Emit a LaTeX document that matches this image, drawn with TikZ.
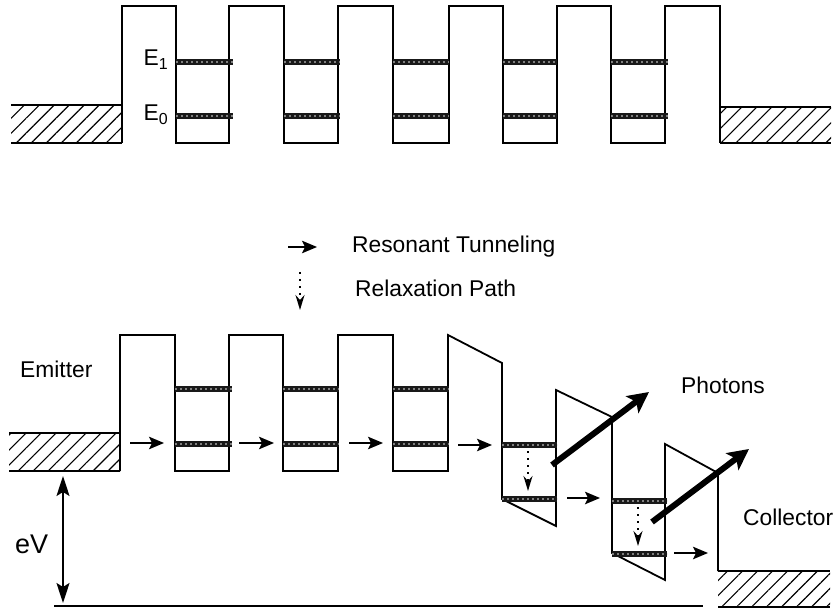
\documentclass[tikz,border=0pt]{standalone}
\usepackage{fontspec}
\setmainfont{Liberation Sans}
\usetikzlibrary{arrows.meta, patterns.meta}

\begin{document}
\begin{tikzpicture}[
    x=1pt, y=-1pt,
    band/.style={line width=1.8pt, line join=miter},
    hatch/.style={pattern={Lines[angle=45,distance=10.6pt,line width=1.1pt]}},
    arrow/.style={-{Stealth[length=15pt,width=12.5pt,inset=3pt]}, line width=1.5pt},
    relax/.style={-{Stealth[length=15pt,width=9pt,inset=5pt]}, line width=2pt, dash pattern=on 2pt off 5pt},
    photon/.style={-{Stealth[length=21pt,width=21pt,inset=5pt]}, line width=6pt},
    label/.style={font=\fontsize{22.8}{24}\selectfont, inner sep=0pt},
    level/.style={line width=5.2pt, black!90},
    leveldots/.style={line width=1.3pt, white!50!black, dash pattern=on 2pt off 3pt}
  ]
  \useasboundingbox (0,0) rectangle (835,609);

  % Structure without bias
  \fill[hatch] (11,105) rectangle (122,143);
  \fill[hatch] (720,107) rectangle (831,143);
  \draw[band] (11,105) -- (122,105);
  \draw[band] (11,143) -- (122,143);
  \draw[band] (720,107) -- (831,107);
  \draw[band] (720,143) -- (831,143);
  \draw[band] (122,143) -- (122,6) -- (176,6) -- (176,143) -- (229,143) -- (229,6) -- (284,6) -- (284,143)
    -- (338,143) -- (338,6) -- (393,6) -- (393,143) -- (449,143) -- (449,6) -- (503,6) -- (503,143)
    -- (557,143) -- (557,6) -- (611,6) -- (611,143) -- (665,143) -- (665,6) -- (720,6) -- (720,143);

  % Niveles, structure without bias
  \foreach \xa/\xb in {176/233,284/340,393/449,503/557,611/668} {
    \foreach \y in {62,116} {
      \draw[level] (\xa,\y) -- (\xb,\y);
      \draw[leveldots] (\xa,\y) -- (\xb,\y);
    }
  }
  \node[label] (eone) at (156,60) {E\textsubscript{1}};
  \node[label] (ezero) at (156,115) {E\textsubscript{0}};

  % Legend
  \coordinate (legA) at (288,247);
  \coordinate (legB) at (317,247);
  \coordinate (legC) at (300,272);
  \coordinate (legD) at (300,310);
  \draw[arrow] (legA) -- (legB);
  \draw[relax] (legC) -- (legD);
  \node[label, anchor=west] (restext) at (352,247) {Resonant Tunneling};
  \node[label, anchor=west] (relaxtext) at (355,288) {Relaxation Path};

  % Structure with bias
  \fill[hatch] (9,433) rectangle (120,471);
  \fill[hatch] (718,571) rectangle (830,607);
  \draw[band] (9,433) -- (120,433);
  \draw[band] (9,471) -- (120,471);
  \draw[band] (718,571) -- (830,571);
  \draw[band] (54,606) -- (703,606);
  \draw[band] (718,607) -- (830,607);
  \draw[band] (120,471) -- (120,335) -- (175,335) -- (175,471) -- (229,471) -- (229,335) -- (283,335) -- (283,471)
    -- (338,471) -- (338,335) -- (393,335) -- (393,471) -- (448,471) -- (448,335) -- (502,363) -- (502,499)
    -- (556,526) -- (556,390) -- (612,417) -- (612,553) -- (665,580) -- (665,444) -- (718,473) -- (718,571);

  % Niveles, structure with bias
  \foreach \xa/\xb/\ya/\yb in {175/232/389/444,283/339/389/444,393/449/389/444,502/557/445/499,612/667/501/554} {
    \foreach \y in {\ya,\yb} {
      \draw[level] (\xa,\y) -- (\xb,\y);
      \draw[leveldots] (\xa,\y) -- (\xb,\y);
    }
  }

  % Flechas de tunneling
  \foreach \name/\xa/\xb/\y in {ta/130/164/443,tb/239/274/443,tc/349/383/443,td/458/492/445,te/567/600/498,tf/674/708/553} {
    \coordinate (\name s) at (\xa,\y);
    \coordinate (\name e) at (\xb,\y);
    \draw[arrow] (\name s) -- (\name e);
  }

  % Relaxation and photons
  \coordinate (rela) at (528,451);
  \coordinate (relb) at (528,491);
  \coordinate (relc) at (638,507);
  \coordinate (reld) at (638,546);
  \draw[relax] (rela) -- (relb);
  \draw[relax] (relc) -- (reld);
  \coordinate (phaa) at (552,465);
  \coordinate (phab) at (649,392);
  \coordinate (phba) at (652,522);
  \coordinate (phbb) at (749,449);
  \draw[photon] (phaa) -- (phab);
  \draw[photon] (phba) -- (phbb);

  % eV
  \coordinate (eva) at (63,476);
  \coordinate (evb) at (63,603);
  \draw[{Stealth[length=20pt,width=13pt,inset=4pt]}-{Stealth[length=20pt,width=13pt,inset=4pt]}, line width=1.5pt] (eva) -- (evb);

  % Etiquetas
  \node[label, anchor=west] (emitter) at (20,369) {Emitter};
  \node[label, anchor=west] (photons) at (681,385) {Photons};
  \node[label, anchor=west] (collector) at (743,517) {Collector};
  \node[label, anchor=west, font=\fontsize{27}{29}\selectfont] (ev) at (15,544) {eV};
\end{tikzpicture}
\end{document}
